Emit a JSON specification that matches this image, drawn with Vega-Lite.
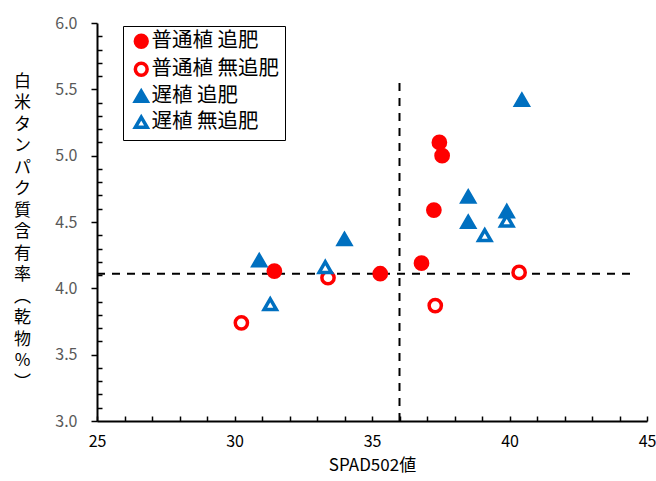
{
  "$schema": "https://vega.github.io/schema/vega-lite/v6.json",
  "width": 550,
  "height": 398,
  "autosize": "none",
  "padding": {"left": 97, "top": 23, "right": 9, "bottom": 60},
  "background": "white",
  "config": {"view": {"stroke": null}, "font": "Noto Sans CJK JP"},
  "datasets": {
    "points": [
      {"group": "普通植 追肥", "SPAD": 31.45, "protein": 4.13},
      {"group": "普通植 追肥", "SPAD": 35.3, "protein": 4.11},
      {"group": "普通植 追肥", "SPAD": 36.8, "protein": 4.19},
      {"group": "普通植 追肥", "SPAD": 37.25, "protein": 4.59},
      {"group": "普通植 追肥", "SPAD": 37.45, "protein": 5.1},
      {"group": "普通植 追肥", "SPAD": 37.55, "protein": 5.0},
      {"group": "普通植 無追肥", "SPAD": 30.25, "protein": 3.74},
      {"group": "普通植 無追肥", "SPAD": 33.4, "protein": 4.08},
      {"group": "普通植 無追肥", "SPAD": 37.3, "protein": 3.87},
      {"group": "普通植 無追肥", "SPAD": 40.35, "protein": 4.12},
      {"group": "遅植 追肥", "SPAD": 30.9, "protein": 4.21},
      {"group": "遅植 追肥", "SPAD": 34.0, "protein": 4.37},
      {"group": "遅植 追肥", "SPAD": 38.5, "protein": 4.69},
      {"group": "遅植 追肥", "SPAD": 38.5, "protein": 4.5},
      {"group": "遅植 追肥", "SPAD": 39.9, "protein": 4.58},
      {"group": "遅植 追肥", "SPAD": 40.45, "protein": 5.42},
      {"group": "遅植 無追肥", "SPAD": 31.3, "protein": 3.88},
      {"group": "遅植 無追肥", "SPAD": 33.3, "protein": 4.16},
      {"group": "遅植 無追肥", "SPAD": 39.1, "protein": 4.4},
      {"group": "遅植 無追肥", "SPAD": 39.9, "protein": 4.51}
    ],
    "vline": [{"SPAD": 36, "protein": 3.0, "protein2": 5.55}],
    "hline": [{"SPAD": 25, "SPAD2": 44.5, "protein": 4.11}]
  },
  "encoding": {
    "x": {
      "field": "SPAD",
      "type": "quantitative",
      "scale": {"domain": [25, 45], "nice": false, "zero": false},
      "axis": {
        "title": "SPAD502値",
        "titleFontSize": 17,
        "titleFontWeight": "normal",
        "titleColor": "black",
        "titlePadding": 8,
        "values": [25,26,27,28,29,30,31,32,33,34,35,36,37,38,39,40,41,42,43,44,45],
        "labelExpr": "datum.value % 5 == 0 ? format(datum.value, 'd') : ''",
        "labelFontSize": 16,
        "labelColor": "black",
        "labelPadding": 17,
        "labelFlush": false,
        "labelOverlap": false,
        "tickSize": -5,
        "tickWidth": 1.5,
        "tickColor": "black",
        "domainColor": "black",
        "domainWidth": 2,
        "grid": false
      }
    },
    "y": {
      "field": "protein",
      "type": "quantitative",
      "scale": {"domain": [3, 6], "nice": false, "zero": false},
      "axis": {
        "title": ["白","米","タ","ン","パ","ク","質","含","有","率","︵","乾","物","%","︶"],
        "titleAngle": 0,
        "titleFontSize": 17,
        "titleFontWeight": "normal",
        "titleColor": "black",
        "titleLineHeight": 21.5,
        "titleAlign": "center",
        "titleBaseline": "middle",
        "titleX": -75,
        "titleY": 58,
        "values": [3,3.1,3.2,3.3,3.4,3.5,3.6,3.7,3.8,3.9,4,4.1,4.2,4.3,4.4,4.5,4.6,4.7,4.8,4.9,5,5.1,5.2,5.3,5.4,5.5,5.6,5.7,5.8,5.9,6],
        "labelExpr": "round(datum.value*10) % 5 == 0 ? format(datum.value, '.1f') : ''",
        "labelFontSize": 16,
        "labelColor": "#595959",
        "labelPadding": 14,
        "labelOverlap": false,
        "labelFlush": false,
        "tickSize": {"condition": {"test": "round(datum.value*10) % 5 == 0", "value": 6}, "value": -5},
        "tickWidth": 1.5,
        "tickColor": "black",
        "domainColor": "black",
        "domainWidth": 2,
        "grid": false
      }
    }
  },
  "layer": [
    {
      "data": {"name": "hline"},
      "mark": {"type": "rule", "strokeDash": [8, 7], "strokeWidth": 2, "color": "black"},
      "encoding": {"x2": {"field": "SPAD2"}}
    },
    {
      "data": {"name": "vline"},
      "mark": {"type": "rule", "strokeDash": [8, 7], "strokeWidth": 2, "color": "black"},
      "encoding": {"y2": {"field": "protein2"}}
    },
    {
      "data": {"name": "points"},
      "mark": {"type": "point", "size": 150, "strokeWidth": 3.5, "opacity": 1, "fillOpacity": 1, "strokeOpacity": 1},
      "encoding": {
        "shape": {
          "field": "group", "type": "nominal",
          "scale": {"domain": ["普通植 追肥", "普通植 無追肥", "遅植 追肥", "遅植 無追肥"], "range": ["circle", "circle", "triangle-up", "triangle-up"]},
          "legend": {
            "orient": "none", "legendX": 26, "legendY": 3, "title": null,
            "strokeColor": "black", "fillColor": "white", "padding": 5,
            "labelFontSize": 20.5, "labelColor": "black", "labelFont": "Noto Sans CJK JP",
            "rowPadding": 1, "symbolSize": 140, "symbolStrokeWidth": 3.5, "labelOffset": 0,
            "symbolOffset": 3
          }
        },
        "fill": {
          "field": "group", "type": "nominal",
          "scale": {"domain": ["普通植 追肥", "普通植 無追肥", "遅植 追肥", "遅植 無追肥"], "range": ["#FF0000", "#FFFFFF", "#0070C0", "#FFFFFF"]}
        },
        "stroke": {
          "field": "group", "type": "nominal",
          "scale": {"domain": ["普通植 追肥", "普通植 無追肥", "遅植 追肥", "遅植 無追肥"], "range": ["#FF0000", "#FF0000", "#0070C0", "#0070C0"]}
        }
      }
    }
  ]
}
